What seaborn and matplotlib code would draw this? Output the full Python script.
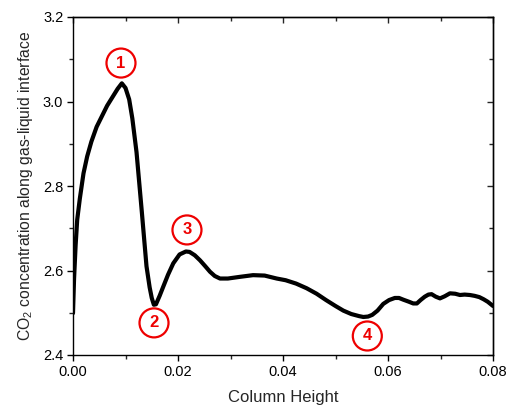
import numpy as np
import pandas as pd
import matplotlib
matplotlib.use("Agg")
import matplotlib.pyplot as plt
import seaborn as sns
from matplotlib.ticker import MultipleLocator

height = [0.0, 0.0002, 0.0005, 0.0008, 0.0013, 0.0020, 0.0027, 0.0035, 0.0045, 0.0055,
          0.0065, 0.0075, 0.0085, 0.0093, 0.0100, 0.0107, 0.0113, 0.0121, 0.0131, 0.0140,
          0.0146, 0.0150, 0.0154, 0.0158, 0.0165, 0.0172, 0.0181, 0.0191, 0.0203, 0.0215,
          0.0222, 0.0232, 0.0242, 0.0252, 0.0261, 0.0270, 0.0280, 0.0295, 0.0318, 0.0343,
          0.0365, 0.0388, 0.0405, 0.0425, 0.0445, 0.0464, 0.0482, 0.0500, 0.0515, 0.0530,
          0.0545, 0.0553, 0.0562, 0.0570, 0.0580, 0.0591, 0.0602, 0.0613, 0.0621, 0.0629,
          0.0640, 0.0648, 0.0655, 0.0662, 0.0670, 0.0677, 0.0683, 0.0691, 0.0699, 0.0708,
          0.0718, 0.0728, 0.0737, 0.0746, 0.0756, 0.0765, 0.0774, 0.0782, 0.0790, 0.0800]
co2 = [2.499, 2.58, 2.66, 2.72, 2.77, 2.83, 2.87, 2.905, 2.94, 2.965,
       2.99, 3.01, 3.03, 3.043, 3.032, 3.005, 2.96, 2.88, 2.74, 2.61,
       2.56, 2.535, 2.519, 2.52, 2.54, 2.562, 2.59, 2.617, 2.638, 2.645,
       2.644, 2.636, 2.624, 2.61, 2.597, 2.587, 2.581, 2.581, 2.585, 2.589,
       2.588, 2.581, 2.577, 2.569, 2.558, 2.545, 2.53, 2.516, 2.505, 2.497,
       2.492, 2.490, 2.491, 2.495, 2.505, 2.521, 2.530, 2.535, 2.535, 2.531,
       2.526, 2.522, 2.522, 2.530, 2.538, 2.543, 2.544, 2.538, 2.534, 2.539,
       2.546, 2.545, 2.542, 2.543, 2.542, 2.540, 2.537, 2.532, 2.526, 2.516]

labels = ["1", "2", "3", "4"]
label_x = [0.00914, 0.01543, 0.02171, 0.05606]
label_y = [3.091, 2.476, 2.696, 2.445]

sns.set_theme(style="ticks")
plt.rcParams['font.family'] = ['Liberation Sans', 'DejaVu Sans']
plt.rcParams['mathtext.fontset'] = 'custom'
plt.rcParams['mathtext.rm'] = 'Liberation Sans'

fig = plt.figure(figsize=(5.13, 4.13), dpi=100)
ax = fig.add_axes([73/513, 1-355/413, 420/513, 338/413])

df = pd.DataFrame({"Column Height": height, "CO2": co2})
sns.lineplot(data=df, x="Column Height", y="CO2", ax=ax, color="black", lw=3.0,
             sort=False, solid_capstyle="round", solid_joinstyle="round")

for t, xx, yy in zip(labels, label_x, label_y):
    ax.text(xx, yy, t, color="#ee0000", fontsize=12, fontweight="bold",
            ha="center", va="center",
            bbox=dict(boxstyle="circle,pad=0.42", fc="white", ec="#ee0000", lw=1.6))

ax.set_xlim(0, 0.08)
ax.set_ylim(2.4, 3.2)
ax.xaxis.set_major_locator(MultipleLocator(0.02))
ax.xaxis.set_minor_locator(MultipleLocator(0.01))
ax.yaxis.set_major_locator(MultipleLocator(0.2))
ax.yaxis.set_minor_locator(MultipleLocator(0.1))
ax.xaxis.set_major_formatter(matplotlib.ticker.FormatStrFormatter('%.2f'))
ax.yaxis.set_major_formatter(matplotlib.ticker.FormatStrFormatter('%.1f'))

for s in ax.spines.values():
    s.set_visible(True)
    s.set_linewidth(1.0)
    s.set_color("black")

ax.tick_params(which="major", bottom=True, left=True, direction="out", length=4, width=1,
               labelsize=10.5, colors="black", pad=3)
ax.tick_params(which="minor", bottom=True, left=True, direction="out", length=3, width=1)
ax2x = ax.secondary_xaxis('top')
ax2x.xaxis.set_major_locator(MultipleLocator(0.02))
ax2x.xaxis.set_minor_locator(MultipleLocator(0.01))
ax2x.tick_params(which="major", direction="in", length=4, width=1, labeltop=False)
ax2x.tick_params(which="minor", direction="in", length=3, width=1)
ax2y = ax.secondary_yaxis('right')
ax2y.yaxis.set_major_locator(MultipleLocator(0.2))
ax2y.yaxis.set_minor_locator(MultipleLocator(0.1))
ax2y.tick_params(which="major", direction="in", length=4, width=1, labelright=False)
ax2y.tick_params(which="minor", direction="in", length=3, width=1)
ax2x.spines['top'].set_linewidth(1.0)
ax2y.spines['right'].set_linewidth(1.0)

ax.set_xlabel("Column Height", fontsize=12, labelpad=8)
ax.set_ylabel("CO$_2$ concentration along gas-liquid interface", fontsize=11.3, labelpad=6)

fig.savefig("out.png", dpi=100, facecolor="white")
